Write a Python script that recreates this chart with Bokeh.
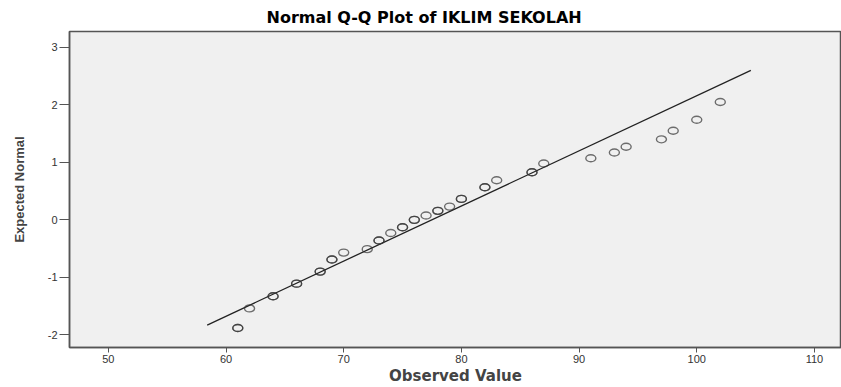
from bokeh.plotting import figure
from bokeh.models import Range1d, FixedTicker, ColumnDataSource
from bokeh.embed import file_html
from bokeh.resources import INLINE

observed = [61, 62, 64, 66, 68, 69, 70, 72, 73, 74, 75, 76, 77, 78, 79,
            80, 82, 83, 86, 87, 91, 93, 94, 97, 98, 100, 102]
expected = [-1.88, -1.54, -1.33, -1.11, -0.90, -0.69, -0.57, -0.51, -0.36,
            -0.23, -0.13, 0.00, 0.075, 0.156, 0.23, 0.364, 0.567, 0.688,
            0.827, 0.98, 1.07, 1.17, 1.27, 1.40, 1.55, 1.74, 2.05]
# number of overlapping markers drawn at each point (darker markers)
overlap = [2, 1, 2, 2, 2, 2, 1, 1, 2, 1, 2, 2, 1, 2, 1,
           2, 2, 1, 2, 1, 1, 1, 1, 1, 1, 1, 1]

# reference normal line end points
line_x = [58.4, 104.6]
line_y = [-1.83, 2.60]

x_ticks = [50, 60, 70, 80, 90, 100, 110]
y_ticks = [-2, -1, 0, 1, 2, 3]
y_tick_labels = ["-2", "-1", "0", "1", "2", "3"]

xs, ys = [], []
for ox, ey, n in zip(observed, expected, overlap):
    for _ in range(n):
        xs.append(ox)
        ys.append(ey)
src = ColumnDataSource(dict(x=xs, y=ys))

p = figure(width=841, height=387, output_backend="svg", toolbar_location=None,
           x_range=Range1d(46.7, 112.3), y_range=Range1d(-2.22, 3.275),
           min_border_left=69, min_border_right=0, min_border_top=0,
           min_border_bottom=0)

p.title.text = "Normal Q-Q Plot of IKLIM SEKOLAH"
p.title.text_font = "DejaVu Sans"
p.title.text_font_style = "bold"
p.title.text_font_size = "16px"
p.title.align = "left"
p.title.offset = 197
p.title.text_color = "#000000"

p.background_fill_color = "#f0f0f0"
p.border_fill_color = "white"
p.outline_line_color = "#555555"
p.outline_line_width = 1.5
p.xgrid.visible = False
p.ygrid.visible = False

p.line(line_x, line_y, line_color="#222222", line_width=1.3)
p.ellipse(x="x", y="y", width=10, height=7, width_units="screen",
          height_units="screen", source=src, fill_color=None,
          line_color="#333333", line_alpha=0.7, line_width=1.4)

xa = p.xaxis[0]
xa.ticker = FixedTicker(ticks=x_ticks)
xa.axis_label = "Observed Value"
xa.axis_label_text_font = "DejaVu Sans"
xa.axis_label_text_font_style = "bold"
xa.axis_label_text_font_size = "15px"
xa.axis_label_standoff = 1
xa.major_label_text_font = "Liberation Sans"
xa.major_label_text_font_size = "11px"
xa.major_label_text_color = "#333333"
xa.major_label_standoff = 2
xa.major_tick_out = 5
xa.major_tick_in = 0
xa.minor_tick_line_color = None
xa.axis_line_color = "#555555"
xa.axis_line_width = 1.5
xa.major_tick_line_color = "#555555"

ya = p.yaxis[0]
ya.ticker = FixedTicker(ticks=y_ticks)
ya.major_label_overrides = {t: s for t, s in zip(y_ticks, y_tick_labels)}
ya.axis_label = "Expected Normal"
ya.axis_label_text_font = "Liberation Sans"
ya.axis_label_text_font_style = "bold"
ya.axis_label_text_font_size = "13px"
ya.axis_label_standoff = 18
ya.major_label_text_font = "Liberation Sans"
ya.major_label_text_font_size = "11px"
ya.major_label_text_color = "#333333"
ya.major_label_standoff = 2
ya.major_tick_out = 10
ya.major_tick_in = 0
ya.minor_tick_line_color = None
ya.axis_line_color = "#555555"
ya.axis_line_width = 1.5
ya.major_tick_line_color = "#555555"

open("out.html", "w").write(file_html(p, INLINE))
